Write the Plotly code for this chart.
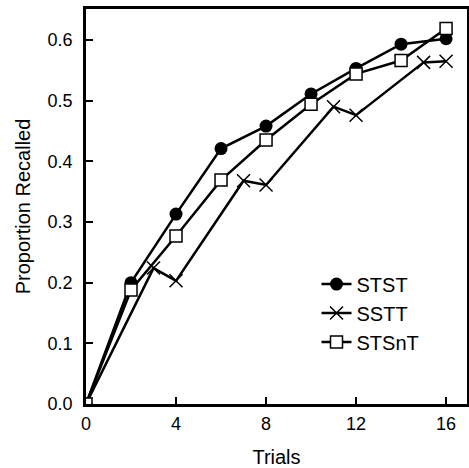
import plotly.graph_objects as go

stst_x = [0, 2, 4, 6, 8, 10, 12, 14, 16]
stst_y = [0.0, 0.200, 0.313, 0.421, 0.458, 0.511, 0.553, 0.593, 0.602]

sstt_x = [0, 3, 4, 7, 8, 11, 12, 15, 16]
sstt_y = [0.0, 0.224, 0.203, 0.368, 0.361, 0.490, 0.476, 0.563, 0.565]

stsnt_x = [0, 2, 4, 6, 8, 10, 12, 14, 16]
stsnt_y = [0.0, 0.188, 0.277, 0.369, 0.435, 0.494, 0.544, 0.566, 0.619]

x_ticks = [0, 4, 8, 12, 16]
y_ticks = [0.0, 0.1, 0.2, 0.3, 0.4, 0.5, 0.6]

FONT = "Liberation Sans, Arial, sans-serif"
TICK_FS = 18
FS = 20

fig = go.Figure()
fig.add_trace(go.Scatter(
    x=stst_x, y=stst_y, name="STST", mode="lines+markers",
    line=dict(color="black", width=2.5),
    marker=dict(symbol="circle", size=13, color="black"),
))
fig.add_trace(go.Scatter(
    x=sstt_x, y=sstt_y, name="SSTT", mode="lines+markers",
    line=dict(color="black", width=2.5),
    marker=dict(symbol="x-thin-open", size=13, color="black", line=dict(width=1.5, color="black")),
))
fig.add_trace(go.Scatter(
    x=stsnt_x, y=stsnt_y, name="STSnT", mode="lines+markers",
    line=dict(color="black", width=2.5),
    marker=dict(symbol="square", size=12, color="white", line=dict(width=1.5, color="black")),
))

fig.update_layout(
    width=469, height=468,
    margin=dict(l=86, r=2, t=9, b=64, autoexpand=False),
    paper_bgcolor="white", plot_bgcolor="white",
    font=dict(family=FONT, size=FS, color="black"),
    showlegend=True,
    legend=dict(x=0.605, y=0.353, xanchor="left", yanchor="top",
                bgcolor="rgba(0,0,0,0)", font=dict(size=FS), itemwidth=30,
                tracegroupgap=0),
    xaxis=dict(
        range=[0, 16.93], tickvals=x_ticks, ticks="inside", ticklen=7, tickwidth=2,
        tickcolor="black", showline=True, linecolor="black", linewidth=2.5, mirror=True,
        showgrid=False, zeroline=False, automargin=False,
        tickfont=dict(size=TICK_FS), ticklabelstandoff=2,
        title=dict(text="Trials", standoff=19, font=dict(size=FS)),
    ),
    yaxis=dict(
        range=[0, 0.651], tickvals=y_ticks, tickformat=".1f", ticks="inside", ticklen=7, tickwidth=2,
        tickcolor="black", showline=True, linecolor="black", linewidth=2.5, mirror=True,
        showgrid=False, zeroline=False, automargin=False,
        tickfont=dict(size=TICK_FS), ticklabelstandoff=7,
        title=dict(text="Proportion Recalled", standoff=12, font=dict(size=FS)),
    ),
)

fig.write_html("out.html", config={"displayModeBar": False},
               post_script="document.body.style.margin='0';document.body.style.overflow='hidden';")
